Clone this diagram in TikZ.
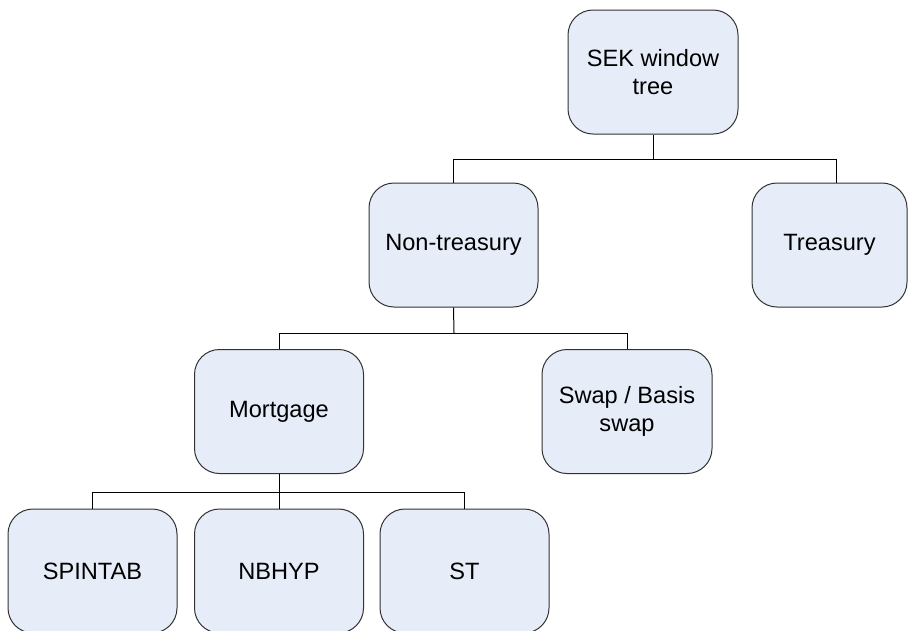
\documentclass[tikz,border=0pt]{standalone}
\usepackage{fontspec}
\setmainfont{Liberation Sans}
\usetikzlibrary{calc}
\definecolor{boxfill}{RGB}{230,237,248}
\definecolor{boxline}{RGB}{50,50,50}
\begin{document}
\begin{tikzpicture}[x=1pt,y=-1pt,
  tbox/.style={draw=boxline,fill=boxfill,line width=1pt,rounded corners=25pt,
    minimum width=169pt,minimum height=124pt,inner sep=0pt,align=center,
    font=\fontsize{23.6}{28}\selectfont},
  conn/.style={draw=black,line width=1pt}]
\useasboundingbox (0,0) rectangle (909,630);
\fill[white] (0,0) rectangle (909,630);
\node[tbox,minimum width=170pt] (sek) at (653,72) {SEK window\\tree};
\node[tbox] (non) at (453.5,245) {Non-treasury};
\node[tbox,minimum width=155pt] (tre) at (829.5,245) {Treasury};
\node[tbox] (mor) at (279,411.5) {Mortgage};
\node[tbox,minimum width=170pt] (swp) at (627,411.5) {Swap / Basis\\swap};
\node[tbox] (spi) at (92.5,571) {SPINTAB};
\node[tbox] (nbh) at (279,571) {NBHYP};
\node[tbox] (st) at (464.5,571) {ST};
\coordinate (b1) at (653,159);
\coordinate (b2) at (454,333);
\coordinate (b3) at (279,492);
\coordinate (tc) at ($(tre.north)+(6.5,0)$);
\draw[conn] (sek.south) -- (b1);
\draw[conn] (non.north) -- (non.north |- b1) -- (tc |- b1) -- (tc);
\draw[conn] (non.south) -- (b2);
\draw[conn] (mor.north) -- (mor.north |- b2) -- (swp.north |- b2) -- (swp.north);
\draw[conn] (mor.south) -- (b3);
\draw[conn] (spi.north) -- (spi.north |- b3) -- (st.north |- b3) -- (st.north);
\draw[conn] (b3) -- (nbh.north);
\end{tikzpicture}
\end{document}
